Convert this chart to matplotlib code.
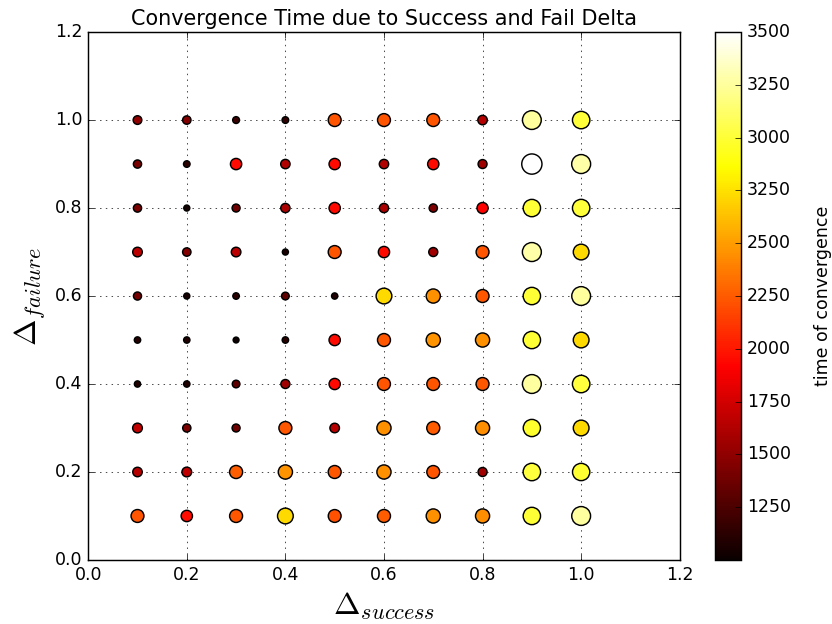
import numpy as np
import matplotlib
matplotlib.use("Agg")
import matplotlib.pyplot as plt

# grid of deltas
delta_success = [0.1, 0.2, 0.3, 0.4, 0.5, 0.6, 0.7, 0.8, 0.9, 1.0]
delta_failure = [0.1, 0.2, 0.3, 0.4, 0.5, 0.6, 0.7, 0.8, 0.9, 1.0]

# convergence time, one row per failure delta (0.1 .. 1.0), columns = success delta
time_f01 = [2230, 1960, 2240, 2720, 2220, 2250, 2450, 2440, 3000, 3260]
time_f02 = [1640, 1680, 2260, 2460, 2240, 2450, 2230, 1560, 3020, 2990]
time_f03 = [1680, 1420, 1380, 2240, 1650, 2450, 2250, 2440, 2980, 2720]
time_f04 = [1080, 1090, 1320, 1560, 1940, 2230, 2230, 2240, 3260, 3020]
time_f05 = [1100, 1090, 1010, 1110, 1950, 2240, 2460, 2450, 3000, 2720]
time_f06 = [1400, 1050, 1120, 1330, 1080, 2720, 2450, 2240, 3000, 3250]
time_f07 = [1660, 1450, 1660, 1050, 2230, 1950, 1560, 2230, 3280, 2720]
time_f08 = [1420, 1040, 1380, 1600, 1950, 1600, 1430, 1920, 3000, 3010]
time_f09 = [1420, 1130, 1950, 1620, 1950, 1620, 1950, 1550, 3500, 3280]
time_f10 = [1500, 1450, 1180, 1150, 2230, 2230, 2230, 1640, 3250, 3010]

cbar_ticks = [1250, 1500, 1750, 2000, 2250, 2500, 2750, 3000, 3250, 3500]
cbar_labels = ['1250', '1500', '1750', '2000', '2250', '2500', '3250', '3000', '3250', '3500']

plt.style.use('classic')
plt.rcParams['mathtext.fontset'] = 'cm'

times = np.array([time_f01, time_f02, time_f03, time_f04, time_f05,
                  time_f06, time_f07, time_f08, time_f09, time_f10])
xx, yy = np.meshgrid(delta_success, delta_failure)
x = xx.ravel()
y = yy.ravel()
t = times.ravel()

fig = plt.figure(figsize=(8, 6), dpi=104, facecolor='white')
ax = fig.add_axes([0.106, 0.1026, 0.711, 0.846])
cax = fig.add_axes([0.859, 0.1026, 0.032, 0.846])

sc = ax.scatter(x, y, c=t, s=(t / 250.0) ** 2, cmap='hot', vmin=1000, vmax=3500,
                edgecolors='k', linewidths=1, zorder=3)

ax.set_xlim(0, 1.2)
ax.set_ylim(0, 1.2)
ax.set_xticks(np.arange(0, 1.21, 0.2))
ax.set_yticks(np.arange(0, 1.21, 0.2))
ax.grid(True, linestyle=':', color='0.3', linewidth=0.7)
ax.set_axisbelow(True)
ax.set_title('Convergence Time due to Success and Fail Delta', fontsize=14.4)
ax.set_xlabel(r'$\Delta_{success}$', fontsize=22)
ax.set_ylabel(r'$\Delta_{failure}$', fontsize=22)

cbar = fig.colorbar(sc, cax=cax)
cbar.set_ticks(cbar_ticks)
cbar.set_ticklabels(cbar_labels)
cbar.set_label('time of convergence', fontsize=12, labelpad=16)

fig.savefig('out.png', dpi=104, facecolor='white')
